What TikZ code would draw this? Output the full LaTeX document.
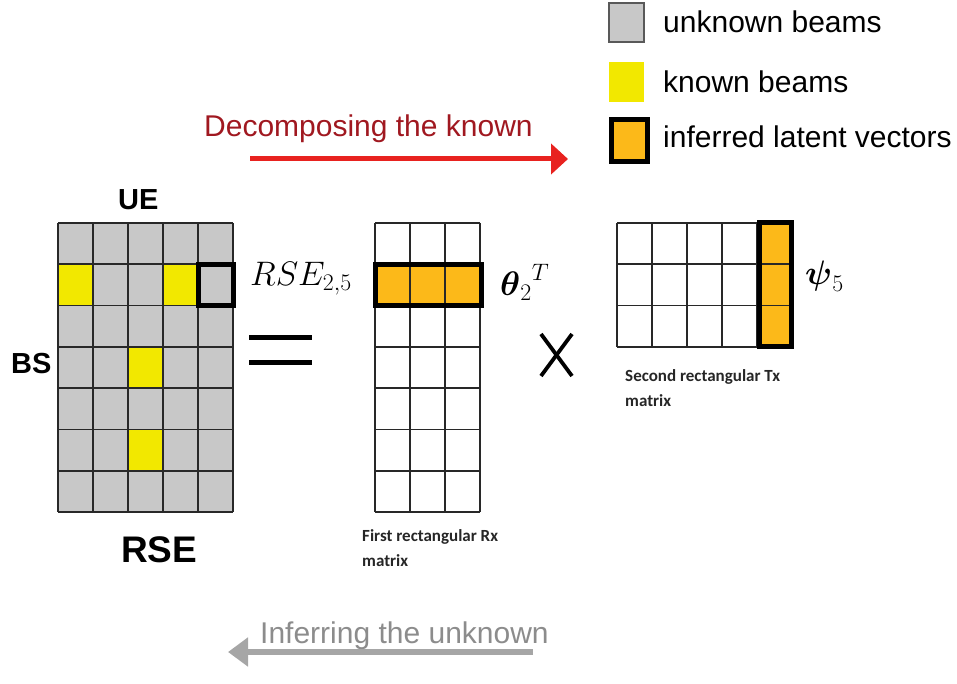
\documentclass[tikz,border=0pt]{standalone}
\usepackage{fix-cm}
\usepackage{amsmath}
\usepackage{fontspec}
\newfontfamily\arialfont{Liberation Sans}
\newfontfamily\calibrifont{Carlito}
\usetikzlibrary{arrows.meta}

\definecolor{beamgrey}{RGB}{200,200,200}
\definecolor{beamyellow}{RGB}{242,232,0}
\definecolor{latentorange}{RGB}{252,185,25}
\definecolor{decred}{RGB}{232,34,31}
\definecolor{dectext}{RGB}{160,24,32}
\definecolor{infgrey}{RGB}{166,166,166}
\definecolor{inftext}{RGB}{140,140,140}
\definecolor{gridline}{RGB}{40,40,40}

\tikzset{
  cell/.style={draw=gridline,line width=1.6pt},
  latent/.style={draw=black,line width=5pt},
  sans/.style={inner sep=0pt,anchor=base west,font=\arialfont\fontsize{30}{34}\selectfont},
  sansbold/.style={inner sep=0pt,anchor=base west,font=\arialfont\bfseries\fontsize{29}{34}\selectfont},
  mathlbl/.style={inner sep=0pt,anchor=base west,font=\fontsize{34}{40}\selectfont},
  caption/.style={inner sep=0pt,anchor=north west,align=left,text=black!85,font=\calibrifont\bfseries\fontsize{17}{25}\selectfont}
}

\begin{document}
\begin{tikzpicture}[x=1pt,y=-1pt]
		\useasboundingbox (0,0) rectangle (957,684);
		% legend
		\draw[draw=black!65,fill=beamgrey,line width=2pt] (609,3) rectangle (644,42);
		\fill[beamyellow] (609,62) rectangle (644,102);
		\draw[latent,fill=latentorange] (611,120) rectangle (647,162);
		\node[sans] (unknownkey) at (663,33) {unknown beams};
		\node[sans] (knownkey) at (663,93) {known beams};
		\node[sans] (latentkey) at (663,148) {inferred latent vectors};
		% decomposing arrow
		\node[sans,text=dectext] (dectxt) at (204,137) {Decomposing the known};
		\coordinate (decstart) at (250,159);
		\coordinate (decend) at (568,159);
		\draw[decred,line width=5pt,-{Triangle[length=17pt,width=30pt]}] (decstart) -- (decend);
		% RSE matrix
		\fill[beamgrey] (58,223) rectangle (233,512.1);
		\foreach \c/\r in {0/1,3/1,2/3,2/5}
			\fill[beamyellow] (58+35*\c,223+41.3*\r) rectangle +(35,41.3);
		\foreach \c in {0,...,5}
			\draw[cell] (58+35*\c,223) -- +(0,289.1);
		\foreach \r in {0,...,7}
			\draw[cell] (58,223+41.3*\r) -- +(175,0);
		\draw[latent] (198,264.3) rectangle +(35,41.3);
		\node[sansbold] (ue) at (118,210) {UE};
		\node[sansbold] (bs) at (11,373) {BS};
		\node[sansbold,font=\arialfont\bfseries\fontsize{37}{40}\selectfont] (rse) at (121,562) {RSE};
		\node[mathlbl] (rselbl) at (250,285) {$RSE_{2,5}$};
		% equals
		\draw[line width=5pt] (249,337) -- (312,337);
		\draw[line width=5pt] (249,362) -- (312,362);
		% Rx matrix
		\fill[latentorange] (375,264.3) rectangle +(105,41.3);
		\foreach \c in {0,...,3}
			\draw[cell] (375+35*\c,223) -- +(0,289.1);
		\foreach \r in {0,...,7}
			\draw[cell] (375,223+41.3*\r) -- +(105,0);
		\draw[latent] (375,264.3) rectangle +(106,41.3);
		\node[mathlbl] (thetalbl) at (500,295) {${\boldsymbol{\theta}_2}^T$};
		\node[caption] (rxcap) at (362,529) {First rectangular Rx\\matrix};
		% times
		\draw[line width=3.8pt] (541,334) -- (572,376);
		\draw[line width=3.8pt] (541,376) -- (572,334);
		% Tx matrix
		\fill[latentorange] (757,223) rectangle +(35,123.9);
		\foreach \c in {0,...,5}
			\draw[cell] (617+35*\c,223) -- +(0,123.9);
		\foreach \r in {0,...,3}
			\draw[cell] (617,223+41.3*\r) -- +(175,0);
		\draw[latent] (759,223) rectangle +(32.5,123.9);
		\node[mathlbl] (psilbl) at (805,284) {$\boldsymbol{\psi}_5$};
		\node[caption] (txcap) at (625,369) {Second rectangular Tx\\matrix};
		% inferring arrow
		\node[sans,text=inftext] (inftxt) at (260,643) {Inferring the unknown};
		\coordinate (infstart) at (533,652);
		\coordinate (infend) at (228,652);
		\draw[infgrey,line width=6pt,-{Triangle[length=20pt,width=28pt]}] (infstart) -- (infend);
\end{tikzpicture}
\end{document}
